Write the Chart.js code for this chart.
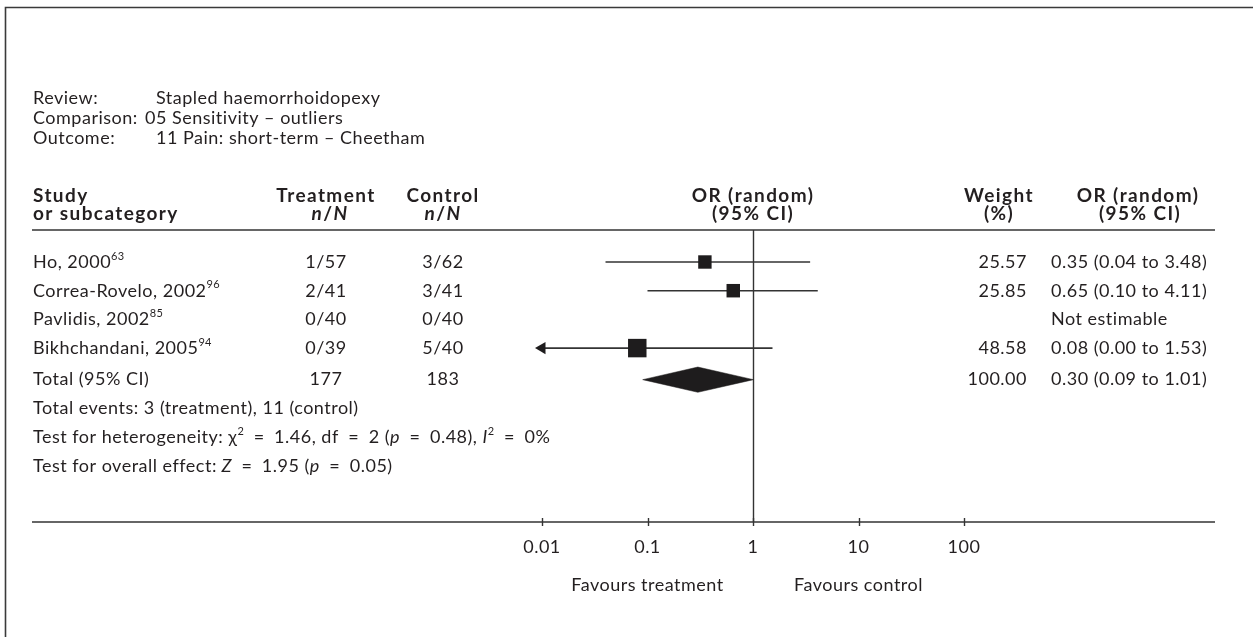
<!DOCTYPE html>
<html>
<head>
<meta charset="utf-8">
<script src="https://cdn.jsdelivr.net/npm/chart.js@4.4.0/dist/chart.umd.min.js"></script>
<style>
  html, body { margin: 0; padding: 0; background: #fff; }
  #wrap { width: 1253px; height: 637px; position: relative; }
  canvas { display: block; }
</style>
</head>
<body>
<div id="wrap"><canvas id="forest" width="1253" height="637"></canvas></div>
<script>
// ---- Data ----
const studies   = ['Ho, 2000', 'Correa-Rovelo, 2002', 'Pavlidis, 2002', 'Bikhchandani, 2005'];
const studyRefs = ['63', '96', '85', '94'];
const treatmentNN = ['1/57', '2/41', '0/40', '0/39'];
const controlNN   = ['3/62', '3/41', '0/40', '5/40'];
const oddsRatio = [0.35, 0.65, null, 0.08];
const ciLower   = [0.04, 0.10, null, 0.00];
const ciUpper   = [3.48, 4.11, null, 1.53];
const weights   = [25.57, 25.85, null, 48.58];

const totalTreatment = 177;
const totalControl   = 183;
const totalWeight    = 100.00;
const totalOR        = 0.30;
const totalLower     = 0.09;
const totalUpper     = 1.01;

const tickValues = [0.01, 0.1, 1, 10, 100];
const tickLabels = ['0.01', '0.1', '1', '10', '100'];

// ---- Layout / style ----
const FONT = 'Lato';
const FS = 18, FSB = 19, SUP = 11;  // regular, bold header and superscript sizes
const LS = 0.5, LSB = 1.4;          // tracking (px) for regular and bold text
const INK = '#231f20';
const LINE = '#333333';
const X_MIN = 0.01, X_MAX = 100;
const studyRows = [1, 2, 3, 4];
const totalRow = 5.1;
const diamondHalf = 0.44;       // half height of the pooled diamond, in row units
const boxScale = 2.65;          // box side (px) per sqrt(weight)

// CI whisker datasets, one per estimable study
const ciSets = [];
const arrowPts = [];
studies.forEach((s, i) => {
  if (oddsRatio[i] == null) return;
  const lo = Math.max(ciLower[i], X_MIN);
  if (ciLower[i] < X_MIN) arrowPts.push({ x: X_MIN, y: studyRows[i] });
  ciSets.push({
    type: 'scatter', showLine: true,
    data: [{ x: lo, y: studyRows[i] }, { x: ciUpper[i], y: studyRows[i] }],
    borderColor: LINE, borderWidth: 1.6, pointRadius: 0, clip: false, order: 3
  });
});

const boxPts = [], boxRadii = [];
studies.forEach((s, i) => {
  if (oddsRatio[i] == null) return;
  boxPts.push({ x: oddsRatio[i], y: studyRows[i] });
  boxRadii.push(boxScale * Math.sqrt(weights[i]) / (2 * Math.SQRT1_2));
});

const diamond = [
  { x: totalLower, y: totalRow },
  { x: totalOR, y: totalRow - diamondHalf },
  { x: totalUpper, y: totalRow },
  { x: totalOR, y: totalRow + diamondHalf },
  { x: totalLower, y: totalRow }
];

// ---- Text helpers ----
function fontOf(s) {
  const size = s.sup ? SUP : (s.b ? FSB : FS);
  return (s.i ? 'italic ' : '') + (s.b ? 'bold ' : '') + size + 'px ' + FONT;
}
function trackOf(s) { return s.sup ? 0.3 : (s.b ? LSB : LS); }
function segWidth(ctx, s) {
  ctx.font = fontOf(s);
  ctx.letterSpacing = '0px';
  return ctx.measureText(s.t).width + [...s.t].length * trackOf(s);
}
function rich(ctx, segs, x, y, align) {
  let w = 0;
  segs.forEach(s => { w += segWidth(ctx, s); });
  let cx = align === 'right' ? x - w : align === 'center' ? x - w / 2 : x;
  segs.forEach(s => {
    const sw = segWidth(ctx, s);
    ctx.font = fontOf(s);
    ctx.letterSpacing = trackOf(s) + 'px';
    ctx.textAlign = 'left';
    ctx.fillText(s.t, cx, s.sup ? y - 6 : y);
    cx += sw;
  });
  ctx.letterSpacing = '0px';
}
const T = (t, o) => Object.assign({ t }, o || {});
const EQ = '\u2002=\u2002';

const forestPlugin = {
  id: 'forestDecor',
  beforeDatasetsDraw(chart) {
    const { ctx, scales: { x } } = chart;
    ctx.save();
    // line of no effect
    const x1 = Math.round(x.getPixelForValue(1)) + 0.5;
    ctx.strokeStyle = LINE; ctx.lineWidth = 1.4;
    ctx.beginPath(); ctx.moveTo(x1, chart.chartArea.top); ctx.lineTo(x1, chart.chartArea.bottom); ctx.stroke();
    ctx.restore();
  },
  afterDraw(chart) {
    const { ctx, scales: { x, y } } = chart;
    const area = chart.chartArea;
    ctx.save();
    // frame
    ctx.strokeStyle = '#3a3a3a'; ctx.lineWidth = 1.6;
    ctx.beginPath(); ctx.moveTo(1253, 7.5); ctx.lineTo(5.5, 7.5); ctx.lineTo(5.5, 637); ctx.stroke();

    // rules
    ctx.strokeStyle = LINE; ctx.lineWidth = 1.6;
    ctx.beginPath(); ctx.moveTo(32, area.top); ctx.lineTo(1215, area.top); ctx.stroke();
    ctx.beginPath(); ctx.moveTo(32, area.bottom); ctx.lineTo(1215, area.bottom); ctx.stroke();
    // ticks
    ctx.lineWidth = 1.4;
    tickValues.forEach(v => {
      const px = Math.round(x.getPixelForValue(v)) + 0.5;
      ctx.beginPath(); ctx.moveTo(px, area.bottom - 4); ctx.lineTo(px, area.bottom + 4); ctx.stroke();
    });

    ctx.fillStyle = INK;
    ctx.textBaseline = 'middle';
    // tick labels
    tickValues.forEach((v, k) => rich(ctx, [T(tickLabels[k])], x.getPixelForValue(v), 547, 'center'));
    rich(ctx, [T('Favours treatment')], x.getPixelForValue(0.1), 585, 'center');
    rich(ctx, [T('Favours control')], x.getPixelForValue(10), 585, 'center');

    // review info
    const vx = 156;
    rich(ctx, [T('Review:')], 33, 98);
    rich(ctx, [T('Stapled haemorrhoidopexy')], vx, 98);
    rich(ctx, [T('Comparison:')], 33, 118);
    rich(ctx, [T('05 Sensitivity \u2013 outliers')], 145, 118);
    rich(ctx, [T('Outcome:')], 33, 138);
    rich(ctx, [T('11 Pain: short-term \u2013 Cheetham')], vx, 138);

    // column headers
    const h1 = 196, h2 = 214;
    const colT = 326, colC = 443, colW = 1027, colWc = 999, colOR = 1051, colORc = 1138;
    rich(ctx, [T('Study', { b: 1 })], 33, h1);
    rich(ctx, [T('or subcategory', { b: 1 })], 33, h2);
    rich(ctx, [T('Treatment', { b: 1 })], colT, h1, 'center');
    rich(ctx, [T('n', { b: 1, i: 1 }), T('/', { b: 1 }), T('N', { b: 1, i: 1 })], colT + 4, h2, 'center');
    rich(ctx, [T('Control', { b: 1 })], colC, h1, 'center');
    rich(ctx, [T('n', { b: 1, i: 1 }), T('/', { b: 1 }), T('N', { b: 1, i: 1 })], colC, h2, 'center');
    rich(ctx, [T('OR (random)', { b: 1 })], x.getPixelForValue(1), h1, 'center');
    rich(ctx, [T('(95% CI)', { b: 1 })], x.getPixelForValue(1), h2, 'center');
    rich(ctx, [T('Weight', { b: 1 })], colWc, h1, 'center');
    rich(ctx, [T('(%)', { b: 1 })], colWc, h2, 'center');
    rich(ctx, [T('OR (random)', { b: 1 })], colORc, h1, 'center');
    rich(ctx, [T('(95% CI)', { b: 1 })], colORc + 2, h2, 'center');

    // study rows
    studies.forEach((s, i) => {
      const py = y.getPixelForValue(studyRows[i]);
      rich(ctx, [T(s), T(studyRefs[i], { sup: 1 })], 33, py);
      rich(ctx, [T(treatmentNN[i])], colT, py, 'center');
      rich(ctx, [T(controlNN[i])], colC, py, 'center');
      if (oddsRatio[i] == null) {
        rich(ctx, [T('Not estimable')], colOR, py);
      } else {
        rich(ctx, [T(weights[i].toFixed(2))], colW, py, 'right');
        rich(ctx, [T(oddsRatio[i].toFixed(2) + ' (' + ciLower[i].toFixed(2) + ' to ' + ciUpper[i].toFixed(2) + ')')], colOR, py);
      }
    });

    // totals
    const ty = y.getPixelForValue(totalRow);
    rich(ctx, [T('Total (95% CI)')], 33, ty);
    rich(ctx, [T(String(totalTreatment))], colT, ty, 'center');
    rich(ctx, [T(String(totalControl))], colC, ty, 'center');
    rich(ctx, [T(totalWeight.toFixed(2))], colW, ty, 'right');
    rich(ctx, [T(totalOR.toFixed(2) + ' (' + totalLower.toFixed(2) + ' to ' + totalUpper.toFixed(2) + ')')], colOR, ty);

    rich(ctx, [T('Total events: 3 (treatment), 11 (control)')], 33, y.getPixelForValue(6.1));
    rich(ctx, [T('Test for heterogeneity: \u03c7'), T('2', { sup: 1 }), T(EQ + '1.46, df' + EQ + '2 ('),
               T('p', { i: 1 }), T(EQ + '0.48), '), T('I', { i: 1 }), T('2', { sup: 1 }), T(EQ + '0%')],
         33, y.getPixelForValue(7.1));
    rich(ctx, [T('Test for overall effect: '), T('Z', { i: 1 }), T(EQ + '1.95 ('), T('p', { i: 1 }), T(EQ + '0.05)')],
         33, y.getPixelForValue(8.1));
    ctx.restore();
  }
};

new Chart(document.getElementById('forest'), {
  type: 'scatter',
  data: {
    datasets: [
      ...ciSets,
      {
        type: 'scatter', data: arrowPts, pointStyle: 'triangle', pointRotation: -90,
        pointRadius: 7, backgroundColor: '#1e1c1d', borderWidth: 0, clip: false, order: 2
      },
      {
        type: 'scatter', data: boxPts, pointStyle: 'rect', pointRadius: boxRadii,
        backgroundColor: '#1e1c1d', borderColor: '#1e1c1d', borderWidth: 0, clip: false, order: 1
      },
      {
        type: 'scatter', showLine: true, data: diamond, fill: 'shape',
        backgroundColor: '#1e1c1d', borderColor: '#1e1c1d', borderWidth: 0.5,
        pointRadius: 0, clip: false, order: 1
      }
    ]
  },
  options: {
    responsive: false,
    animation: false,
    events: [],
    layout: { padding: { left: 542, right: 289, top: 230, bottom: 115 } },
    plugins: { legend: { display: false }, tooltip: { enabled: false } },
    scales: {
      x: { type: 'logarithmic', min: X_MIN, max: X_MAX, display: false },
      y: { type: 'linear', reverse: true, min: -0.115, max: 10.06, display: false }
    }
  },
  plugins: [forestPlugin]
});
</script>
</body>
</html>
